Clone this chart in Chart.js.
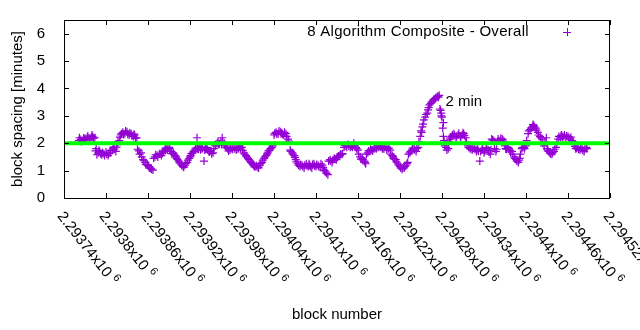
<!DOCTYPE html>
<html>
<head>
<meta charset="utf-8">
<script src="https://cdn.jsdelivr.net/npm/chart.js@4"></script>
<style>
  body { margin: 0; background: #fff; }
  #wrap { width: 640px; height: 330px; }
</style>
</head>
<body>
<div id="wrap"><canvas id="myChart" width="640" height="330"></canvas></div>
<script>
// block numbers and spacing (minutes)
const blocks = [
    2293761, 2293764, 2293767, 2293770, 2293773, 2293776, 2293779, 2293781, 2293784, 2293786,
    2293789, 2293791, 2293794, 2293797, 2293800, 2293803, 2293806, 2293809, 2293811, 2293814,
    2293816, 2293819, 2293821, 2293824, 2293827, 2293830, 2293833, 2293836, 2293839, 2293841,
    2293844, 2293847, 2293850, 2293853, 2293856, 2293859, 2293861, 2293864, 2293867, 2293870,
    2293873, 2293876, 2293879, 2293881, 2293884, 2293887, 2293890, 2293893, 2293896, 2293899,
    2293901, 2293904, 2293907, 2293910, 2293913, 2293916, 2293919, 2293921, 2293924, 2293927,
    2293930, 2293931, 2293934, 2293937, 2293940, 2293941, 2293944, 2293947, 2293950, 2293953,
    2293956, 2293959, 2293961, 2293964, 2293966, 2293969, 2293971, 2293974, 2293977, 2293980,
    2293983, 2293986, 2293989, 2293991, 2293994, 2293997, 2294000, 2294003, 2294006, 2294009,
    2294011, 2294014, 2294017, 2294020, 2294023, 2294026, 2294029, 2294031, 2294034, 2294037,
    2294040, 2294043, 2294046, 2294049, 2294051, 2294054, 2294057, 2294060, 2294063, 2294066,
    2294069, 2294071, 2294074, 2294077, 2294080, 2294083, 2294086, 2294089, 2294091, 2294094,
    2294097, 2294100, 2294103, 2294106, 2294109, 2294111, 2294114, 2294117, 2294120, 2294123,
    2294126, 2294129, 2294131, 2294134, 2294137, 2294140, 2294143, 2294146, 2294149, 2294151,
    2294154, 2294157, 2294160, 2294163, 2294166, 2294169, 2294171, 2294174, 2294177, 2294180,
    2294183, 2294186, 2294189, 2294191, 2294194, 2294197, 2294200, 2294203, 2294206, 2294209,
    2294211, 2294214, 2294217, 2294220, 2294223, 2294226, 2294229, 2294231, 2294234, 2294237,
    2294240, 2294243, 2294246, 2294249, 2294250, 2294253, 2294256, 2294259, 2294261, 2294264,
    2294267, 2294270, 2294273, 2294276, 2294277, 2294279, 2294280, 2294281, 2294283, 2294286,
    2294289, 2294291, 2294294, 2294297, 2294300, 2294303, 2294306, 2294309, 2294311, 2294314,
    2294317, 2294320, 2294323, 2294326, 2294329, 2294331, 2294334, 2294337, 2294340, 2294343,
    2294346, 2294349, 2294351, 2294354, 2294357, 2294360, 2294363, 2294366, 2294369, 2294371,
    2294374, 2294377, 2294380, 2294383, 2294386, 2294389, 2294391, 2294394, 2294397, 2294400,
    2294403, 2294406, 2294409, 2294411, 2294414, 2294417, 2294420, 2294423, 2294426, 2294429,
    2294431, 2294434, 2294437, 2294440, 2294443, 2294446, 2294449, 2294451, 2294454, 2294457,
    2294460, 2294463, 2294466, 2294469, 2294471, 2294474, 2294477, 2294480, 2294483, 2294486
];
const spacing = [
    2.10, 2.14, 2.10, 2.17, 2.20, 2.16, 2.22, 2.25, 2.20, 1.80,
    1.65, 1.70, 1.58, 1.62, 1.68, 1.55, 1.65, 1.75, 1.85, 1.70,
    1.95, 2.10, 2.30, 2.40, 2.35, 2.42, 2.30, 2.35, 2.25, 2.30,
    2.20, 1.72, 1.65, 1.40, 1.30, 1.22, 1.15, 1.08, 1.02, 1.50,
    1.55, 1.60, 1.55, 1.65, 1.75, 1.80, 1.85, 1.70, 1.65, 1.55,
    1.45, 1.35, 1.25, 1.15, 1.20, 1.30, 1.45, 1.55, 1.65, 1.75,
    2.20, 1.80, 1.85, 1.80, 1.35, 1.75, 1.85, 1.70, 1.72, 1.65,
    1.90, 2.00, 1.95, 2.05, 2.20, 2.00, 1.90, 1.80, 1.75, 1.80,
    1.85, 1.75, 1.80, 1.90, 1.85, 1.65, 1.55, 1.45, 1.35, 1.25,
    1.20, 1.15, 1.12, 1.20, 1.30, 1.45, 1.55, 1.65, 1.75, 1.85,
    2.30, 2.40, 2.35, 2.42, 2.38, 2.30, 2.35, 2.15, 1.75, 1.65,
    1.55, 1.40, 1.25, 1.15, 1.20, 1.10, 1.25, 1.15, 1.20, 1.10,
    1.25, 1.15, 1.20, 1.12, 1.20, 1.05, 0.95, 0.85, 1.40, 1.30,
    1.45, 1.40, 1.50, 1.55, 1.60, 1.85, 1.90, 1.95, 1.85, 1.90,
    2.00, 1.85, 1.75, 1.50, 1.45, 1.35, 1.25, 1.65, 1.70, 1.75,
    1.80, 1.80, 1.85, 1.90, 1.85, 1.80, 1.85, 1.80, 1.75, 1.55,
    1.45, 1.40, 1.25, 1.15, 1.05, 1.10, 1.20, 1.30, 1.65, 1.75,
    1.80, 1.70, 1.85, 2.25, 2.45, 2.70, 2.95, 3.10, 3.30, 3.45,
    3.55, 3.62, 3.70, 3.75, 3.25, 3.10, 2.95, 2.55, 2.10, 1.85,
    1.80, 2.15, 2.25, 2.35, 2.20, 2.30, 2.25, 2.30, 2.35, 2.20,
    1.90, 1.80, 1.75, 1.85, 1.70, 1.80, 1.35, 1.75, 1.65, 1.80,
    1.75, 1.60, 2.15, 2.10, 1.70, 2.15, 2.10, 2.15, 2.05, 1.80,
    1.85, 1.75, 1.70, 1.50, 1.40, 1.30, 1.45, 1.80, 1.85, 1.90,
    2.35, 2.50, 2.60, 2.65, 2.55, 2.40, 2.25, 2.15, 1.90, 2.20,
    1.75, 1.65, 1.60, 1.70, 1.85, 2.15, 2.20, 2.30, 2.25, 2.20,
    2.25, 2.15, 2.10, 1.95, 1.80, 1.85, 1.75, 1.80, 1.70, 1.85
];
// the in-between blocks, which make the band as thick as it is in the plot
const blocks2 = [
    2293762, 2293765, 2293768, 2293771, 2293774, 2293777, 2293780, 2293782, 2293785, 2293787,
    2293790, 2293792, 2293795, 2293798, 2293801, 2293804, 2293807, 2293810, 2293812, 2293815,
    2293817, 2293820, 2293822, 2293825, 2293828, 2293831, 2293834, 2293837, 2293840, 2293842,
    2293845, 2293848, 2293851, 2293854, 2293857, 2293860, 2293862, 2293865, 2293868, 2293871,
    2293874, 2293877, 2293880, 2293882, 2293885, 2293888, 2293891, 2293894, 2293897, 2293900,
    2293902, 2293905, 2293908, 2293911, 2293914, 2293917, 2293920, 2293922, 2293925, 2293928,
    2293932, 2293933, 2293935, 2293938, 2293942, 2293943, 2293945, 2293948, 2293951, 2293954,
    2293957, 2293960, 2293962, 2293965, 2293967, 2293970, 2293972, 2293975, 2293978, 2293981,
    2293984, 2293987, 2293990, 2293992, 2293995, 2293998, 2294001, 2294004, 2294007, 2294010,
    2294012, 2294015, 2294018, 2294021, 2294024, 2294027, 2294030, 2294032, 2294035, 2294038,
    2294041, 2294044, 2294047, 2294050, 2294052, 2294055, 2294058, 2294061, 2294064, 2294067,
    2294070, 2294072, 2294075, 2294078, 2294081, 2294084, 2294087, 2294090, 2294092, 2294095,
    2294098, 2294101, 2294104, 2294107, 2294110, 2294112, 2294115, 2294118, 2294121, 2294124,
    2294127, 2294130, 2294132, 2294135, 2294138, 2294141, 2294144, 2294147, 2294150, 2294152,
    2294155, 2294158, 2294161, 2294164, 2294167, 2294170, 2294172, 2294175, 2294178, 2294181,
    2294184, 2294187, 2294190, 2294192, 2294195, 2294198, 2294201, 2294204, 2294207, 2294210,
    2294212, 2294215, 2294218, 2294221, 2294224, 2294227, 2294230, 2294232, 2294235, 2294238,
    2294241, 2294244, 2294247, 2294251, 2294252, 2294254, 2294257, 2294260, 2294262, 2294265,
    2294268, 2294271, 2294274, 2294275, 2294278, 2294279, 2294282, 2294282, 2294284, 2294287,
    2294290, 2294292, 2294295, 2294298, 2294301, 2294304, 2294307, 2294310, 2294312, 2294315,
    2294318, 2294321, 2294324, 2294327, 2294330, 2294332, 2294335, 2294338, 2294341, 2294344,
    2294347, 2294350, 2294352, 2294355, 2294358, 2294361, 2294364, 2294367, 2294370, 2294372,
    2294375, 2294378, 2294381, 2294384, 2294387, 2294390, 2294392, 2294395, 2294398, 2294401,
    2294404, 2294407, 2294410, 2294412, 2294415, 2294418, 2294421, 2294424, 2294427, 2294430,
    2294432, 2294435, 2294438, 2294441, 2294444, 2294447, 2294450, 2294452, 2294455, 2294458,
    2294461, 2294464, 2294467, 2294470, 2294472, 2294475, 2294478, 2294481, 2294484, 2294487
];
const spacing2 = [
    2.20, 2.06, 2.19, 2.12, 2.26, 2.13, 2.30, 2.18, 1.72, 1.58,
    1.74, 1.62, 1.66, 1.55, 1.60, 1.62, 1.74, 1.82, 1.78, 1.86,
    2.05, 2.22, 2.35, 2.32, 2.45, 2.33, 2.38, 2.27, 2.33, 2.18,
    1.78, 1.60, 1.50, 1.36, 1.22, 1.20, 1.10, 1.05, 1.45, 1.58,
    1.50, 1.62, 1.62, 1.70, 1.82, 1.76, 1.80, 1.62, 1.60, 1.50,
    1.40, 1.28, 1.20, 1.12, 1.26, 1.38, 1.50, 1.62, 1.70, 1.82,
    1.78, 1.90, 1.76, 1.82, 1.80, 1.78, 1.76, 1.68, 1.62, 1.80,
    1.96, 2.06, 1.98, 1.95, 2.04, 1.94, 1.84, 1.72, 1.82, 1.78,
    1.80, 1.80, 1.86, 1.82, 1.74, 1.60, 1.50, 1.40, 1.30, 1.22,
    1.14, 1.18, 1.10, 1.26, 1.38, 1.50, 1.60, 1.72, 1.80, 1.90,
    2.36, 2.33, 2.45, 2.35, 2.33, 2.40, 2.25, 2.08, 1.70, 1.60,
    1.48, 1.32, 1.20, 1.22, 1.15, 1.20, 1.18, 1.25, 1.15, 1.22,
    1.18, 1.22, 1.14, 1.25, 1.12, 1.00, 0.90, 1.35, 1.35, 1.38,
    1.42, 1.48, 1.53, 1.60, 1.62, 1.92, 1.85, 1.90, 1.92, 1.85,
    1.92, 1.80, 1.60, 1.42, 1.40, 1.30, 1.60, 1.72, 1.78, 1.72,
    1.86, 1.84, 1.90, 1.86, 1.80, 1.88, 1.76, 1.82, 1.60, 1.50,
    1.42, 1.32, 1.20, 1.10, 1.10, 1.15, 1.26, 1.60, 1.70, 1.82,
    1.76, 1.80, 2.05, 2.40, 2.60, 2.85, 3.05, 3.22, 3.40, 3.50,
    3.60, 3.66, 3.72, 3.68, 3.20, 3.00, 2.75, 2.25, 1.90, 1.75,
    2.05, 2.20, 2.30, 2.28, 2.25, 2.36, 2.22, 2.38, 2.28, 2.05,
    1.85, 1.82, 1.80, 1.78, 1.76, 1.72, 1.70, 1.80, 1.72, 1.84,
    1.68, 1.75, 2.12, 1.80, 1.78, 2.08, 2.18, 2.12, 1.90, 1.78,
    1.80, 1.68, 1.60, 1.45, 1.35, 1.38, 1.60, 1.85, 1.80, 2.10,
    2.45, 2.55, 2.68, 2.60, 2.48, 2.30, 2.20, 2.00, 2.05, 1.80,
    1.70, 1.62, 1.66, 1.78, 2.00, 2.25, 2.28, 2.22, 2.30, 2.26,
    2.20, 2.22, 2.05, 1.88, 1.82, 1.78, 1.82, 1.74, 1.78, 1.80
];
const targetMinutes = 2;
const xMin = 2293740;
const xMax = 2294520;
const xStep = 60;
const xTickLabels = [
    "2.29374", "2.2938", "2.29386", "2.29392", "2.29398", "2.29404", "2.2941",
    "2.29416", "2.29422", "2.29428", "2.29434", "2.2944", "2.29446", "2.29452"
];
const seriesName = "8 Algorithm Composite - Overall";
const noteText = "2 min";
const noteBlock = 2294285;
const noteMinutes = 3.5;

const FONT = "Liberation Sans, Arial, sans-serif";
const PURPLE = "#9400d3";

let points = blocks.map((b, i) => ({ x: b, y: spacing[i] }));
blocks2.forEach((b, i) => points.push({ x: b, y: spacing2[i] }));

const gnuplotLook = {
    id: "gnuplotLook",
    afterDraw(chart) {
        const ctx = chart.ctx;
        const a = chart.chartArea;
        const xs = chart.scales.x;
        const ys = chart.scales.y;
        ctx.save();
        ctx.strokeStyle = "#000";
        ctx.lineWidth = 1;
        // frame
        ctx.strokeRect(a.left + 0.5, a.top + 0.5, a.right - a.left - 1, a.bottom - a.top);
        // inward ticks, mirrored
        ctx.beginPath();
        xs.ticks.forEach((t) => {
            let px = Math.round(xs.getPixelForValue(t.value)) + 0.5;
            ctx.moveTo(px, a.bottom);
            ctx.lineTo(px, a.bottom - 5);
            ctx.moveTo(px, a.top);
            ctx.lineTo(px, a.top + 5);
        });
        ys.ticks.forEach((t) => {
            let py = Math.round(ys.getPixelForValue(t.value)) + 0.5;
            ctx.moveTo(a.left, py);
            ctx.lineTo(a.left + 5, py);
            ctx.moveTo(a.right, py);
            ctx.lineTo(a.right - 5, py);
        });
        ctx.stroke();

        // rotated x tick labels
        ctx.fillStyle = "#000";
        ctx.textAlign = "left";
        ctx.textBaseline = "top";
        xs.ticks.forEach((t, i) => {
            let px = xs.getPixelForValue(t.value);
            ctx.save();
            ctx.translate(px + 2, a.bottom + 11);
            ctx.rotate(52 * Math.PI / 180);
            ctx.font = "15px " + FONT;
            let main = xTickLabels[i] + "x10";
            ctx.fillText(main, 0, 0);
            let w = ctx.measureText(main + " ").width;
            ctx.font = "11px " + FONT;
            ctx.fillText("6", w, -3);
            ctx.restore();
        });

        // legend
        ctx.font = "15px " + FONT;
        ctx.letterSpacing = "0.3px";
        ctx.textAlign = "right";
        ctx.textBaseline = "middle";
        ctx.fillText(seriesName, 529, 32);
        ctx.letterSpacing = "0px";
        ctx.strokeStyle = PURPLE;
        ctx.beginPath();
        ctx.moveTo(563, 32.5);
        ctx.lineTo(571, 32.5);
        ctx.moveTo(567.5, 28);
        ctx.lineTo(567.5, 36);
        ctx.stroke();

        // note next to the peak
        ctx.textAlign = "left";
        ctx.fillStyle = "#000";
        ctx.fillText(noteText, xs.getPixelForValue(noteBlock), ys.getPixelForValue(noteMinutes));
        ctx.restore();
    },
};

const ctx = document.getElementById("myChart").getContext("2d");
const my_chart = new Chart(ctx, {
    type: "scatter",
    data: {
        datasets: [
            {
                type: "line",
                label: "target",
                data: [
                    { x: xMin, y: targetMinutes },
                    { x: xMax, y: targetMinutes },
                ],
                borderColor: "#00ff00",
                borderWidth: 4,
                pointRadius: 0,
                order: 0,
            },
            {
                label: seriesName,
                data: points,
                pointStyle: "cross",
                pointRadius: 4,
                borderColor: PURPLE,
                backgroundColor: PURPLE,
                borderWidth: 1.2,
                order: 1,
            },
        ],
    },
    options: {
        responsive: false,
        animation: false,
        devicePixelRatio: 1,
        layout: { padding: { top: 20, right: 30, bottom: 0, left: 0 } },
        plugins: {
            legend: { display: false },
            tooltip: { enabled: false },
        },
        scales: {
            x: {
                type: "linear",
                min: xMin,
                max: xMax,
                ticks: { stepSize: xStep, display: false, includeBounds: false },
                grid: { display: false },
                border: { display: false },
                title: {
                    display: true,
                    text: "block number",
                    color: "#000",
                    font: { family: FONT, size: 15 },
                    padding: { top: 0, bottom: 6 },
                },
                afterFit(scale) {
                    scale.height = 132;
                    scale.paddingLeft = 0;
                    scale.paddingRight = 0;
                },
            },
            y: {
                min: 0,
                max: 6.5,
                ticks: {
                    stepSize: 1,
                    includeBounds: false,
                    color: "#000",
                    font: { family: FONT, size: 15 },
                    padding: 19,
                },
                grid: { display: false, drawTicks: false },
                border: { display: false },
                title: {
                    display: true,
                    text: "block spacing [minutes]",
                    color: "#000",
                    font: { family: FONT, size: 15 },
                    padding: { top: 9, bottom: 0 },
                },
                afterFit(scale) {
                    scale.width = 64;
                    scale.paddingTop = 0;
                    scale.paddingBottom = 0;
                },
            },
        },
    },
    plugins: [gnuplotLook],
});
</script>
</body>
</html>
